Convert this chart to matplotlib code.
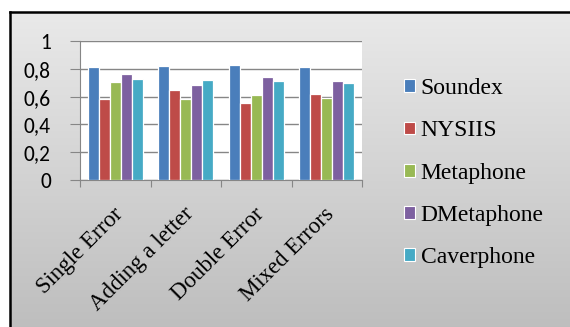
import numpy as np
import matplotlib.pyplot as plt
from matplotlib.patches import Rectangle

categories = ["Single Error", "Adding a letter", "Double Error", "Mixed Errors"]
series = ["Soundex", "NYSIIS", "Metaphone", "DMetaphone", "Caverphone"]
soundex = [0.815, 0.82, 0.83, 0.815]
nysiis = [0.58, 0.65, 0.555, 0.62]
metaphone = [0.705, 0.58, 0.61, 0.59]
dmetaphone = [0.76, 0.68, 0.74, 0.71]
caverphone = [0.727, 0.72, 0.71, 0.70]
values = [soundex, nysiis, metaphone, dmetaphone, caverphone]
colors = ["#4a7ebb", "#be4b48", "#98b954", "#7d60a0", "#46aac5"]
yticks = [0, 0.2, 0.4, 0.6, 0.8, 1]
ytick_labels = ["0", "0,2", "0,4", "0,6", "0,8", "1"]

W, H = 570, 327
fig = plt.figure(figsize=(W / 100, H / 100), dpi=100)
fig.patch.set_facecolor("white")

# gray gradient panel behind everything, framed in black on top/left
bg = fig.add_axes([10 / W, 0, 1 - 10 / W, 1 - 12 / H], zorder=-1)
grad = np.linspace(0, 1, 256)[:, None] * np.ones((1, 2))
shade = 0.915 - 0.17 * grad
bg.imshow(np.dstack([shade] * 3), aspect="auto", extent=[0, 1, 0, 1],
          origin="upper", interpolation="bilinear")
bg.set_axis_off()
fig.add_artist(plt.Line2D([10 / W, 10 / W], [0, 1 - 12 / H], color="black", lw=1.8))
fig.add_artist(plt.Line2D([10 / W, 1], [1 - 12 / H, 1 - 12 / H], color="black", lw=1.8))

ax = fig.add_axes([80 / W, 1 - 180 / H, (362 - 80) / W, (180 - 41) / H])
ax.set_facecolor("white")

x = np.arange(len(categories))
slot = 0.157
for i, (name, vals) in enumerate(zip(series, values)):
    ax.bar(x + (i - 2) * slot, vals, width=slot, color=colors[i],
           edgecolor="white", linewidth=0.9, label=name, zorder=3)

ax.set_xlim(-0.5, len(categories) - 0.5)
ax.set_ylim(0, 1)
ax.set_yticks(yticks)
ax.set_yticklabels(ytick_labels, fontsize=15.5, family=["Carlito", "Lato"])
ax.yaxis.grid(True, color="#868686", linewidth=1.0, zorder=0)
ax.tick_params(axis="y", length=7, color="#868686", pad=14)

ax.set_xticks(np.arange(len(categories) + 1) - 0.5)
ax.set_xticklabels([""] * (len(categories) + 1))
ax.tick_params(axis="x", length=5, color="#868686", direction="out")
for xi, lab in zip(x, categories):
    ax.text(xi - 0.04, -0.17, lab, rotation=45, ha="right", va="top",
            rotation_mode="anchor", fontsize=16.5, family="Liberation Serif",
            transform=ax.get_xaxis_transform())

for side in ["top", "right"]:
    ax.spines[side].set_visible(False)
ax.spines["left"].set_color("#868686")
ax.spines["bottom"].set_color("#868686")

handles = [Rectangle((0, 0), 1, 1, facecolor=c, edgecolor="white", lw=0.8) for c in colors]
fig.legend(handles, series, loc="upper left", bbox_to_anchor=(383 / W, 1 - 57 / H),
           frameon=False, prop={"family": "Liberation Serif", "size": 17},
           handlelength=0.45, handleheight=0.45, handletextpad=0.25,
           labelspacing=0.9)

fig.savefig("out.png", dpi=100)
